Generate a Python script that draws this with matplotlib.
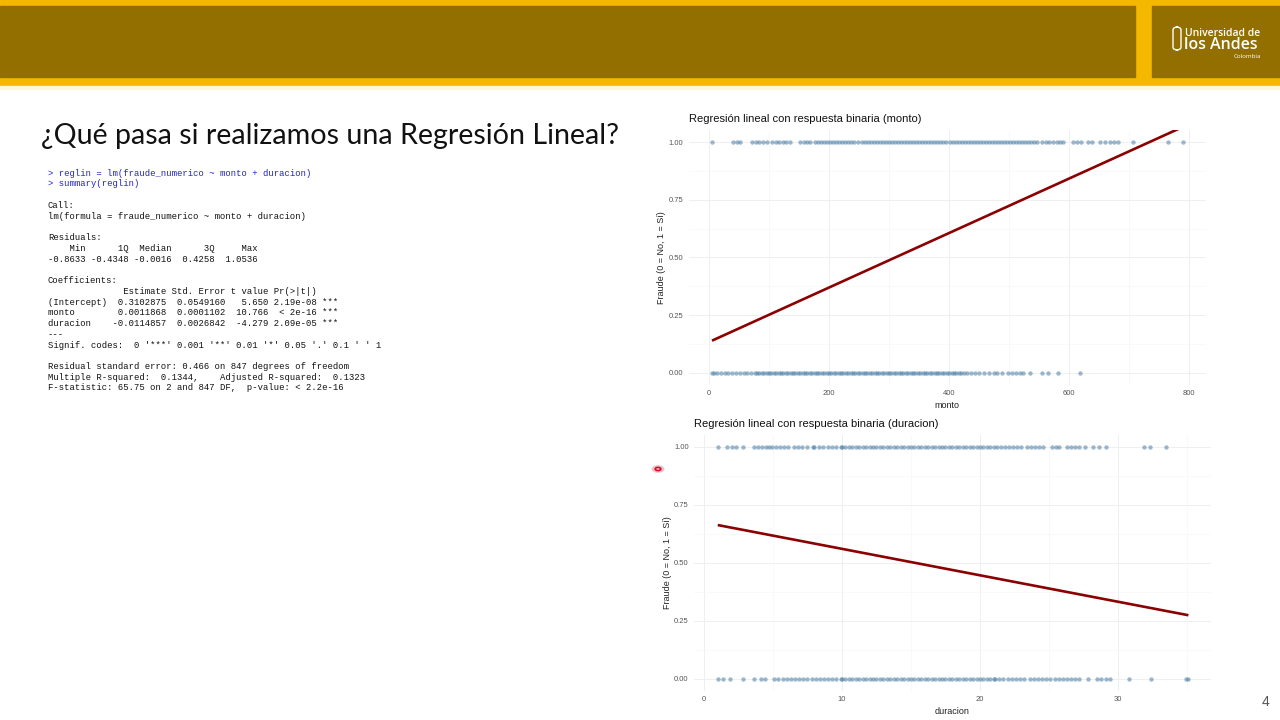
import numpy as np
import matplotlib
matplotlib.use("Agg")
import matplotlib.pyplot as plt
from matplotlib.patches import Rectangle, FancyBboxPatch

# colours of the slide
amarillo = "#F5B800"
cafe = "#936F00"
puntos = "#4A7FA8"
linea = "#8B0000"

# monto of cases with fraude = 1 / fraude = 0
monto_si = [5, 40, 46, 52, 72, 78, 84, 90, 96, 105, 111, 117, 123, 129, 135,
            152, 158, 164, 168, 177, 182, 187, 192, 197, 202, 207, 212, 217,
            222, 227, 232, 237, 242, 248, 255, 260, 265, 270, 275, 280, 285,
            290, 295, 300, 305, 310, 315, 320, 325, 330, 335, 340, 345, 350,
            355, 360, 365, 370, 375, 380, 385, 390, 395, 402, 407, 412, 417,
            422, 427, 432, 437, 442, 447, 452, 457, 462, 467, 472, 477, 482,
            487, 492, 497, 502, 507, 512, 517, 522, 527, 532, 537, 542, 547,
            555, 561, 567, 573, 579, 585, 590, 607, 613, 620, 632, 638, 652,
            660, 668, 675, 682, 707, 765, 790]
monto_no = [5, 9, 14, 20, 26, 32, 38, 45, 52, 58, 64, 70, 76, 80, 84, 88, 92,
            96, 100, 104, 108, 112, 116, 120, 124, 128, 132, 136, 140, 144,
            148, 152, 156, 160, 164, 168, 172, 176, 180, 184, 188, 192, 196,
            200, 204, 208, 212, 216, 220, 224, 228, 232, 236, 240, 244, 248,
            252, 256, 260, 264, 268, 272, 276, 280, 284, 288, 292, 296, 300,
            304, 308, 312, 316, 320, 324, 328, 332, 336, 340, 344, 348, 352,
            356, 360, 364, 368, 372, 376, 380, 384, 388, 392, 396, 400, 404,
            408, 412, 416, 420, 425, 430, 436, 443, 450, 458, 466, 474, 480,
            488, 498, 505, 512, 518, 523, 535, 555, 565, 582, 618]

# duracion of cases with fraude = 1 / fraude = 0
duracion_si = [1.0, 1.7, 2.0, 2.3, 2.8, 3.6, 3.9, 4.2, 4.5, 4.7, 4.9, 5.2, 5.5,
               5.8, 6.1, 6.5, 6.8, 7.1, 7.5, 7.9, 8.0, 8.3, 8.6, 9.0, 9.3, 9.6,
               9.9, 10.0, 10.25, 10.5, 10.75, 11.0, 11.25, 11.5, 11.75, 12.0,
               12.25, 12.5, 12.75, 13.0, 13.25, 13.5, 13.75, 14.0, 14.25, 14.5,
               14.75, 15.0, 15.25, 15.5, 15.75, 16.0, 16.25, 16.5, 16.75, 17.0,
               17.25, 17.5, 17.75, 18.0, 18.25, 18.5, 18.75, 19.0, 19.25, 19.5,
               19.75, 20.0, 20.25, 20.5, 20.75, 21.0, 21.2, 21.5, 21.8, 22.1,
               22.4, 22.7, 23.0, 23.4, 23.7, 24.0, 24.3, 24.6, 25.2, 25.5, 25.7,
               26.3, 26.6, 26.9, 27.2, 27.6, 28.2, 28.6, 29.1, 31.9, 32.3, 33.5]
duracion_no = [1.0, 1.4, 1.9, 2.8, 3.6, 4.1, 4.4, 5.1, 5.4, 5.7, 6.0, 6.3, 6.6,
               6.9, 7.2, 7.5, 7.8, 8.1, 8.4, 8.7, 9.0, 9.3, 9.6, 9.9, 10.0,
               10.25, 10.5, 10.75, 11.0, 11.25, 11.5, 11.75, 12.0, 12.25, 12.5,
               12.75, 13.0, 13.25, 13.5, 13.75, 14.0, 14.25, 14.5, 14.75, 15.0,
               15.25, 15.5, 15.75, 16.0, 16.25, 16.5, 16.75, 17.0, 17.25, 17.5,
               17.75, 18.0, 18.25, 18.5, 18.75, 19.0, 19.25, 19.5, 19.75, 20.0,
               20.25, 20.5, 20.75, 21.0, 21.1, 21.4, 21.7, 22.0, 22.3, 22.6,
               22.9, 23.2, 23.6, 23.9, 24.2, 24.5, 24.8, 25.1, 25.4, 25.7, 26.0,
               26.3, 26.6, 26.9, 27.2, 27.8, 28.5, 28.8, 29.1, 29.4, 30.8, 32.4,
               34.9, 35.1]

# fitted lines (intercept, slope) as drawn by geom_smooth
fit_monto = (0.134, 0.00118)
fit_duracion = (0.675, -0.0114)

# R console output
r_input = ["> reglin = lm(fraude_numerico ~ monto + duracion)",
           "> summary(reglin)"]
r_output = ["",
            "Call:",
            "lm(formula = fraude_numerico ~ monto + duracion)",
            "",
            "Residuals:",
            "    Min      1Q  Median      3Q     Max ",
            "-0.8633 -0.4348 -0.0016  0.4258  1.0536 ",
            "",
            "Coefficients:",
            "              Estimate Std. Error t value Pr(>|t|)    ",
            "(Intercept)  0.3102875  0.0549160   5.650 2.19e-08 ***",
            "monto        0.0011868  0.0001102  10.766  < 2e-16 ***",
            "duracion    -0.0114857  0.0026842  -4.279 2.09e-05 ***",
            "---",
            "Signif. codes:  0 '***' 0.001 '**' 0.01 '*' 0.05 '.' 0.1 ' ' 1",
            "",
            "Residual standard error: 0.466 on 847 degrees of freedom",
            "Multiple R-squared:  0.1344,\tAdjusted R-squared:  0.1323 ",
            "F-statistic: 65.75 on 2 and 847 DF,  p-value: < 2.2e-16"]

plt.rcParams['font.family'] = ['Liberation Sans', 'DejaVu Sans']

fig = plt.figure(figsize=(12.8, 7.2), dpi=100)
W, H = 1280, 720


def px(x, y, w, h):
    # pixel box (top-left origin) -> figure fraction rect
    return [x / W, 1 - (y + h) / H, w / W, h / H]


# header band
fig.patches.append(Rectangle((0, 1 - 86 / H), 1, 86 / H, transform=fig.transFigure,
                             color=amarillo, zorder=0))
fig.patches.append(Rectangle((0, 1 - 77 / H), 1135 / W, 71 / H, transform=fig.transFigure,
                             color=cafe, zorder=1))
fig.patches.append(Rectangle((1152 / W, 1 - 77 / H), 128 / W, 71 / H,
                             transform=fig.transFigure, color=cafe, zorder=1))
fig.patches.append(Rectangle((0, 1 - 89 / H), 1, 3 / H, transform=fig.transFigure,
                             color="#FDF5DE", zorder=0))
# logo
fig.patches.append(FancyBboxPatch((1173 / W, 1 - 50 / H), 8 / W, 23 / H,
                                  boxstyle="round,pad=0,rounding_size=0.004",
                                  transform=fig.transFigure, fill=False,
                                  ec="white", lw=1.0, zorder=2))
fig.text(1185 / W, 1 - 33 / H, "Universidad de", color="white", fontsize=7.5,
         family="Open Sans", weight="semibold", va="center", ha="left")
fig.text(1184 / W, 1 - 45 / H, "los Andes", color="white", fontsize=11.5,
         family="Open Sans", weight="semibold", va="center", ha="left")
fig.text(1261 / W, 1 - 57 / H, "Colombia", color="white", fontsize=4.5,
         family="Open Sans", va="center", ha="right")

# slide title
fig.text(41 / W, 1 - 136 / H, "¿Qué pasa si realizamos una Regresión Lineal?",
         fontsize=20.6, family="Lato", va="center", ha="left", color="#111111")

# R console text
y0 = 173
dy = 10.75
for i, s in enumerate(r_input):
    fig.text(48 / W, 1 - (y0 + i * dy) / H, s, fontsize=6.42, family="Liberation Mono",
             color="#2323C8", va="center", ha="left")
for i, s in enumerate(r_output):
    j = i + len(r_input)
    fig.text(48 / W, 1 - (y0 + j * dy) / H, s.expandtabs(4), fontsize=6.42,
             family="Liberation Mono", color="#111111", va="center", ha="left")

# page number
fig.text(1266 / W, 1 - 702 / H, "4", fontsize=10, color="#555555", va="center",
         ha="center")


def panel(rect, xs1, xs0, fit, xlim, xticks, xminor, xlabel, title):
    ax = fig.add_axes(rect)
    ax.set_xlim(*xlim)
    ax.set_ylim(-0.05, 1.05)
    ax.set_xticks(xticks)
    ax.set_xticks(xminor, minor=True)
    ax.set_yticks([0, 0.25, 0.5, 0.75, 1.0])
    ax.set_yticks([0.125, 0.375, 0.625, 0.875], minor=True)
    ax.set_yticklabels(["0.00", "0.25", "0.50", "0.75", "1.00"])
    ax.grid(True, which="major", color="#EFEFEF", lw=0.7)
    ax.grid(True, which="minor", color="#F6F6F6", lw=0.45)
    ax.set_axisbelow(True)
    for sp in ax.spines.values():
        sp.set_visible(False)
    ax.tick_params(which="both", length=0, labelsize=5.5, labelcolor="#555555", pad=4)
    ax.scatter(xs1, np.ones(len(xs1)), s=10, color=puntos, alpha=0.55, lw=0)
    ax.scatter(xs0, np.zeros(len(xs0)), s=10, color=puntos, alpha=0.55, lw=0)
    xx = np.array([min(xs1 + xs0), max(xs1 + xs0)])
    ax.plot(xx, fit[0] + fit[1] * xx, color=linea, lw=1.9, solid_capstyle="butt")
    ax.set_xlabel(xlabel, fontsize=6.5, color="#222222", labelpad=3)
    ax.set_ylabel("Fraude (0 = No, 1 = Sí)", fontsize=6.5, color="#222222", labelpad=1.5)
    ax.set_title(title, loc="left", fontsize=8, color="#111111", pad=6)
    return ax


panel(px(688.6, 130.5, 517.4, 254), monto_si, monto_no, fit_monto,
      (-34, 828), [0, 200, 400, 600, 800], [100, 300, 500, 700], "monto",
      "Regresión lineal con respuesta binaria (monto)")
panel(px(694.3, 435.4, 516.2, 255.2), duracion_si, duracion_no, fit_duracion,
      (-0.7, 36.7), [0, 10, 20, 30], [5, 15, 25, 35], "duracion",
      "Regresión lineal con respuesta binaria (duracion)")

# laser pointer dot
fig.patches.append(plt.Circle((658 / W, 1 - 469 / H), 0.0045, transform=fig.transFigure,
                              color="#F4B6BF", alpha=0.7, zorder=5))
fig.patches.append(plt.Circle((658 / W, 1 - 469 / H), 0.0022, transform=fig.transFigure,
                              fc="none", ec="#D0102A", lw=1.2, zorder=6))

fig.savefig("out.png", dpi=100)
